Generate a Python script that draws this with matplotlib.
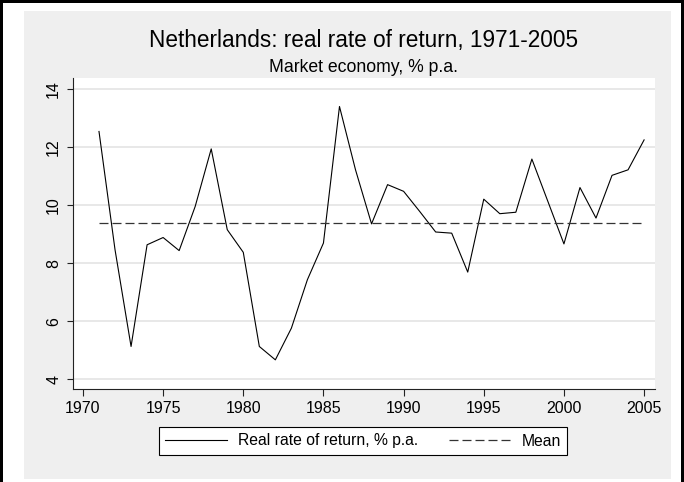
import numpy as np
import matplotlib.pyplot as plt
from matplotlib.patches import Rectangle

plt.rcParams['font.family'] = ['Liberation Sans', 'DejaVu Sans']

# data
years = list(range(1971, 2006))
real_return = [12.53, 8.46, 5.13, 8.63, 8.88, 8.43, 9.95, 11.93, 9.15, 8.37,
               5.13, 4.67, 5.76, 7.43, 8.69, 13.39, 11.21, 9.35, 10.70, 10.47,
               9.78, 9.07, 9.03, 7.69, 10.20, 9.70, 9.75, 11.58, 10.12, 8.66,
               10.60, 9.55, 11.02, 11.21, 12.24]
xticks = [1970, 1975, 1980, 1985, 1990, 1995, 2000, 2005]
yticks = [4, 6, 8, 10, 12, 14]

mean_val = np.mean(real_return)

W, H = 684, 482
fig = plt.figure(figsize=(W / 100, H / 100), dpi=100, facecolor='white')

# helper: pixel box -> figure fraction
def px_rect(x0, y0, x1, y1, **kw):
    r = Rectangle((x0 / W, 1 - y1 / H), (x1 - x0) / W, (y1 - y0) / H,
                  transform=fig.transFigure, **kw)
    fig.add_artist(r)
    return r

# grey graph region + black outer border (top, left, right)
px_rect(24, 11, 671, 479, facecolor='#efefef', edgecolor='none', zorder=0)
px_rect(0, 0, 684, 3, facecolor='black', edgecolor='none', zorder=0)
px_rect(0, 0, 3, 482, facecolor='black', edgecolor='none', zorder=0)
px_rect(681, 0, 684, 482, facecolor='black', edgecolor='none', zorder=0)

ax = fig.add_axes([72.7 / W, 1 - 389.3 / H, (655 - 72.7) / W, (389.3 - 78.3) / H])
ax.set_facecolor('white')

line1, = ax.plot(years, real_return, color='black', lw=0.8, zorder=3)
line2, = ax.plot([years[0], years[-1]], [mean_val, mean_val], color='#333333',
                 lw=0.9, linestyle=(0, (7.2, 3.2)), zorder=3)

ax.set_xlim(1969.36, 2005.68)
ax.set_ylim(3.656, 14.36)
ax.set_xticks(xticks)
ax.set_yticks(yticks)
ax.yaxis.grid(True, color='#e6e6e6', lw=1.3, zorder=1)
ax.set_axisbelow(True)

for s in ['top', 'right']:
    ax.spines[s].set_visible(False)
for s in ['left', 'bottom']:
    ax.spines[s].set_color('#222222')
    ax.spines[s].set_linewidth(0.8)

ax.tick_params(axis='x', direction='out', length=4.8, width=0.8, color='#222222',
               labelsize=11.5, pad=3.5)
ax.tick_params(axis='y', direction='out', length=4.3, width=0.8, color='#222222',
               labelsize=11.5, pad=4)
for lab in ax.get_yticklabels():
    lab.set_rotation(90)
    lab.set_va('center')

cx = 363.7 / W
fig.text(cx, 1 - 47.3 / H, 'Netherlands: real rate of return, 1971-2005',
         ha='center', va='baseline', fontsize=16.3)
fig.text(cx, 1 - 71.7 / H, 'Market economy, % p.a.',
         ha='center', va='baseline', fontsize=12.7)

leg = fig.legend([line1, line2], ['Real rate of return, % p.a.', 'Mean'],
                 loc='center', bbox_to_anchor=(363 / W, 1 - 441 / H), ncol=2,
                 frameon=True, fancybox=False, edgecolor='black', framealpha=1,
                 fontsize=11.3, handlelength=3.9, handletextpad=0.7,
                 columnspacing=2.0, borderpad=0.4)
leg.get_frame().set_linewidth(0.8)

fig.savefig('out.png', dpi=100, facecolor='white')
